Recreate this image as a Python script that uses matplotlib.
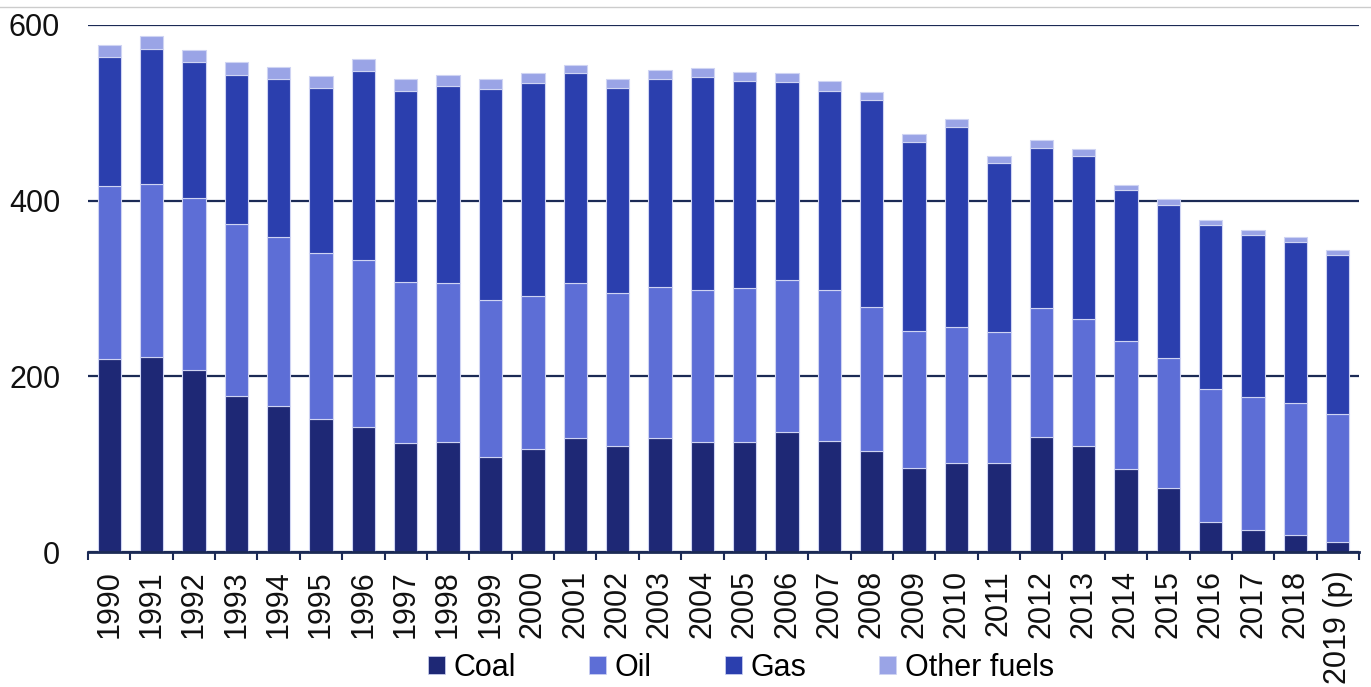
import matplotlib
matplotlib.use("Agg")
import matplotlib.pyplot as plt
from matplotlib.patches import Patch
from matplotlib.lines import Line2D
import numpy as np

plt.rcParams['font.family'] = ['Liberation Sans', 'DejaVu Sans']

years = [str(y) for y in range(1990, 2019)] + ["2019 (p)"]
coal = [219.4, 222.0, 206.9, 177.6, 165.9, 151.8, 141.9, 124.1, 125.2, 108.5,
        116.9, 129.4, 121.0, 129.4, 125.2, 125.2, 136.2, 126.4, 115.4, 95.6,
        101.3, 101.0, 131.0, 121.0, 94.0, 73.2, 34.2, 25.4, 19.7, 11.4]
oil = [197.6, 196.6, 196.1, 196.2, 192.4, 188.2, 191.1, 183.7, 181.1, 178.5,
       175.1, 176.9, 174.0, 172.6, 172.8, 175.4, 173.1, 171.6, 163.9, 156.0,
       154.5, 149.0, 147.0, 144.3, 146.2, 147.3, 151.4, 151.5, 150.3, 146.1]
gas = [146.0, 154.4, 154.5, 169.7, 179.7, 188.0, 214.6, 217.2, 224.7, 240.0,
       241.6, 238.7, 233.0, 237.0, 242.5, 235.7, 225.7, 227.0, 235.0, 214.9,
       228.2, 192.5, 182.4, 185.2, 171.6, 174.2, 186.7, 184.0, 182.6, 181.0]
other = [14.0, 14.0, 13.5, 14.0, 14.0, 14.0, 14.1, 14.0, 12.5, 11.0,
         11.4, 9.9, 11.0, 10.0, 10.1, 9.7, 10.0, 11.3, 9.4, 9.5,
         8.6, 8.0, 8.3, 8.7, 6.4, 6.9, 5.3, 5.3, 5.7, 5.3]

series_names = ["Coal", "Oil", "Gas", "Other fuels"]
colors = ["#1E2875", "#5D6ED6", "#2B3FAE", "#9AA4E6"]
dark = "#1B2A55"

fig = plt.figure(figsize=(13.71, 6.87), dpi=100)
ax = fig.add_axes([88/1371, 1-552/687, (1359-88)/1371, (552-25)/687])

x = np.arange(len(years))
bottom = np.zeros(len(years))
for vals, c in zip([coal, oil, gas, other], colors):
    ax.bar(x, vals, width=0.55, bottom=bottom, color=c, edgecolor="#cfd4f3",
           linewidth=0.8, zorder=3)
    bottom += np.array(vals)

ax.set_xlim(-0.5, len(years) - 0.5)
ax.set_ylim(0, 600)
ax.set_yticks([0, 200, 400, 600])
ax.yaxis.grid(True, color=dark, linewidth=1.6, zorder=1)
ax.set_axisbelow(True)
for s in ["left", "right", "top"]:
    ax.spines[s].set_visible(False)
ax.spines["bottom"].set_color(dark)
ax.spines["bottom"].set_linewidth(2)
ax.spines["bottom"].set_zorder(4)

ax.tick_params(axis="y", length=0, pad=20, labelsize=22, labelcolor="#111111")
ax.set_xticks(x)
ax.set_xticklabels(years, rotation=90, fontsize=22, color="#111111")
ax.tick_params(axis="x", which="major", length=0, pad=13)
ax.set_xticks(np.arange(-0.5, len(years)), minor=True)
ax.tick_params(axis="x", which="minor", length=6, width=1.5, color=dark, direction="out")

handles = [Patch(facecolor=c, edgecolor="#cfd4f3", linewidth=0.5) for c in colors]
fig.legend(handles, series_names, loc="center", bbox_to_anchor=(741/1371, 1-668/687),
           ncol=4, frameon=False, fontsize=22, handlelength=0.55, handleheight=0.55,
           handletextpad=0.28, columnspacing=2.4, borderpad=0.1)

fig.add_artist(Line2D([0, 1], [1-7/687, 1-7/687], transform=fig.transFigure,
                      color="#cccccc", linewidth=1))

fig.savefig("out.png", dpi=100)
